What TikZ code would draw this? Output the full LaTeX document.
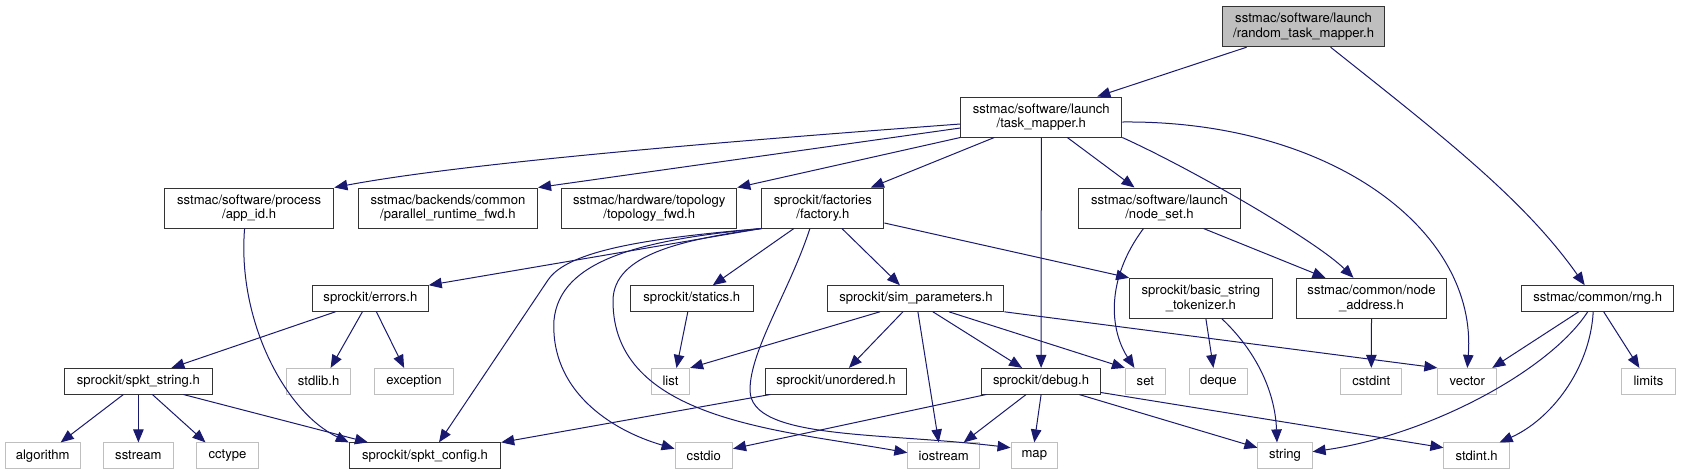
\documentclass[tikz,border=0pt]{standalone}
\usepackage{fontspec}
\setmainfont{TeX Gyre Heros}
\usepackage{tikz}
\usetikzlibrary{arrows.meta}

\definecolor{edgeblue}{HTML}{191970}
\definecolor{boxgrey}{HTML}{BFBFBF}

\begin{document}
\begin{tikzpicture}[
      x=1pt, y=-1pt,
      >={Triangle[length=13pt,width=10.5pt]},
      every node/.style={font=\fontsize{13.1}{14.6}\selectfont, inner sep=0pt, align=center},
      hdr/.style={draw=black!80, line width=1pt, minimum height=25.6pt},
      sys/.style={hdr, draw=boxgrey},
      tall/.style={minimum height=40pt},
      root/.style={hdr, tall, fill=boxgrey},
      dep/.style={->, draw=edgeblue, line width=1pt}
    ]
    \useasboundingbox (0,0) rectangle (1681,475);

    % top rows
    \node[root, minimum width=162] (rtm) at (1303.6,26.7)
      {sstmac/software/launch\\/random\_task\_mapper.h};
    \node[hdr, tall, minimum width=161] (tm) at (1041.3,117)
      {sstmac/software/launch\\/task\_mapper.h};
    \node[hdr, tall, minimum width=169.6] (appid) at (249.1,208)
      {sstmac/software/process\\/app\_id.h};
    \node[hdr, tall, minimum width=179.3] (prt) at (447.9,208)
      {sstmac/backends/common\\/parallel\_runtime\_fwd.h};
    \node[hdr, tall, minimum width=175] (topo) at (649.3,208)
      {sstmac/hardware/topology\\/topology\_fwd.h};
    \node[hdr, tall, minimum width=122] (fact) at (822.9,208)
      {sprockit/factories\\/factory.h};
    \node[hdr, tall, minimum width=161.8] (nset) at (1159.5,208)
      {sstmac/software/launch\\/node\_set.h};

    % middle row
    \node[hdr, minimum width=115.7] (err) at (370.4,298.5) {sprockit/errors.h};
    \node[hdr, minimum width=122.8] (stat) at (691.8,298.5) {sprockit/statics.h};
    \node[hdr, minimum width=176] (simp) at (915.9,298.5) {sprockit/sim\_parameters.h};
    \node[hdr, tall, minimum width=142.5] (bst) at (1200.9,298.3)
      {sprockit/basic\_string\\\_tokenizer.h};
    \node[hdr, tall, minimum width=150.7] (naddr) at (1371.5,298.3)
      {sstmac/common/node\\\_address.h};
    \node[hdr, minimum width=151.8] (rng) at (1597.7,298.5) {sstmac/common/rng.h};

    \node[hdr, minimum width=147.5] (sstr) at (138.4,381.2) {sprockit/spkt\_string.h};
    \node[sys, minimum width=64.3] (stdlib) at (318.6,381.2) {stdlib.h};
    \node[sys, minimum width=79] (exc) at (414.1,381.2) {exception};
    \node[sys, minimum width=38.2] (list) at (670.5,381.2) {list};
    \node[hdr, minimum width=140.4] (unord) at (835.9,381.2) {sprockit/unordered.h};
    \node[hdr, minimum width=118.6] (dbg) at (1041.1,381.2) {sprockit/debug.h};
    \node[sys, minimum width=40] (set) at (1145.4,381.2) {set};
    \node[sys, minimum width=57.5] (deque) at (1218.4,381.2) {deque};
    \node[sys, minimum width=61.1] (cstdint) at (1371.3,381.2) {cstdint};
    \node[sys, minimum width=58.9] (vector) at (1467.3,381.2) {vector};
    \node[sys, minimum width=54] (limits) at (1648.4,381.2) {limits};

    % bottom row
    \node[sys, minimum width=75.4] (algo) at (42.7,455.7) {algorithm};
    \node[sys, minimum width=69.6] (sstream) at (138.4,455.7) {sstream};
    \node[sys, minimum width=61.4] (cctype) at (227.5,455.7) {cctype};
    \node[hdr, minimum width=151.4] (spcfg) at (425,455.7) {sprockit/spkt\_config.h};
    \node[sys, minimum width=57.5] (cstdio) at (703.8,455.7) {cstdio};
    \node[sys, minimum width=71.7] (iostr) at (943.7,455.7) {iostream};
    \node[sys, minimum width=46.5] (map) at (1034.3,455.7) {map};
    \node[sys, minimum width=54.2] (string) at (1285,455.7) {string};
    \node[sys, minimum width=65.4] (stdint) at (1476.6,455.7) {stdint.h};

    % random_task_mapper
    \draw[dep] ([xshift=-57]rtm.south) -- ([xshift=56]tm.north);
    \draw[dep] ([xshift=27]rtm.south) .. controls (1441,135) and (1524,199)
      .. ([xshift=-13]rng.north);

    % task_mapper
    \draw[dep] ([yshift=-7]tm.west) .. controls (800,136) and (480,160)
      .. (appid.north east);
    \draw[dep] ([yshift=-11]tm.west) -- (prt.north east);
    \draw[dep] (tm.south west) -- (topo.north east);
    \draw[dep] ([xshift=-47]tm.south) -- ([xshift=48]fact.north);
    \draw[dep] (tm.south) -- (dbg.north);
    \draw[dep] ([xshift=26]tm.south) -- ([xshift=-25]nset.north);
    \draw[dep] (tm.south east) .. controls (1190,168) and (1315,240)
      .. ([xshift=-18]naddr.north);
    \draw[dep] ([yshift=-5]tm.east) .. controls (1330,120) and (1478,230)
      .. (vector.north);

    \draw[dep] ([xshift=-4.5]appid.south) .. controls (237,320) and (285,412)
      .. (spcfg.north west);

    % factory
    \draw[dep] (fact.south west) -- (err.north east);
    \draw[dep] (fact.south west) .. controls (650,238) and (568,250)
      .. (548,280) -- ([xshift=14]spcfg.north);
    \draw[dep] (fact.south west) .. controls (640,240) and (560,260)
      .. (554,320) .. controls (550,390) and (610,430) .. ([yshift=7]cstdio.west);
    \draw[dep] (fact.south west) .. controls (680,240) and (614,255)
      .. (613,300) .. controls (612,420) and (780,430) .. ([yshift=3]iostr.west);
    \draw[dep] ([xshift=-13]fact.south) .. controls (790,290) and (750,350)
      .. (750,390) .. controls (750,440) and (880,432) .. ([yshift=8]map.west);
    \draw[dep] ([xshift=-29]fact.south) -- ([xshift=21]stat.north);
    \draw[dep] ([xshift=19]fact.south) -- ([xshift=-16]simp.north);
    \draw[dep] ([yshift=-15]fact.east) -- (bst.north west);

    % node_set
    \draw[dep] ([xshift=-16]nset.south) .. controls (1105,280) and (1110,330)
      .. ([xshift=-11]set.north);
    \draw[dep] ([xshift=44]nset.south) -- ([xshift=-46]naddr.north);

    % errors, spkt_string
    \draw[dep] ([xshift=-35]err.south) -- ([xshift=33]sstr.north);
    \draw[dep] ([xshift=-8]err.south) -- ([xshift=12]stdlib.north);
    \draw[dep] ([xshift=6]err.south) -- ([xshift=-10]exc.north);
    \draw[dep] ([xshift=-15]sstr.south) -- ([xshift=18]algo.north);
    \draw[dep] (sstr.south) -- (sstream.north);
    \draw[dep] ([xshift=14]sstr.south) -- ([xshift=-22]cctype.north);
    \draw[dep] ([xshift=45]sstr.south) -- ([xshift=-57]spcfg.north);

    % statics, sim_parameters
    \draw[dep] ([xshift=-4]stat.south) -- ([xshift=6]list.north);
    \draw[dep] ([xshift=-36]simp.south) -- (list.north east);
    \draw[dep] ([xshift=-13]simp.south) -- ([xshift=13]unord.north);
    \draw[dep] ([xshift=2]simp.south) -- ([xshift=-5]iostr.north);
    \draw[dep] ([xshift=17]simp.south) -- ([xshift=-19]dbg.north);
    \draw[dep] ([xshift=33]simp.south) -- (set.north west);
    \draw[dep] (simp.south east) -- (vector.north west);

    % tokenizer, node_address, rng
    \draw[dep] ([xshift=5]bst.south) -- ([xshift=-5]deque.north);
    \draw[dep] ([xshift=21]bst.south) .. controls (1255,350) and (1275,390)
      .. ([xshift=-8]string.north);
    \draw[dep] (naddr.south) -- (cstdint.north);
    \draw[dep] ([xshift=-19]rng.south) -- ([xshift=-5]vector.north east);
    \draw[dep] ([xshift=-10]rng.south) .. controls (1550,370) and (1430,435)
      .. ([yshift=4]string.east);
    \draw[dep] ([xshift=-4.5]rng.south) .. controls (1590,370) and (1550,420)
      .. ([xshift=23]stdint.north);
    \draw[dep] ([xshift=6]rng.south) -- ([xshift=-9]limits.north);

    % unordered, debug
    \draw[dep] ([xshift=5]unord.south west) -- (spcfg.north east);
    \draw[dep] ([xshift=5]dbg.south west) -- ([yshift=7]cstdio.east);
    \draw[dep] ([xshift=-15]dbg.south) -- ([xshift=20]iostr.north);
    \draw[dep] (dbg.south) -- (map.north);
    \draw[dep] ([xshift=38]dbg.south) -- ([yshift=8]string.west);
    \draw[dep] ([yshift=2]dbg.south east) -- ([yshift=8]stdint.west);
  \end{tikzpicture}
\end{document}
